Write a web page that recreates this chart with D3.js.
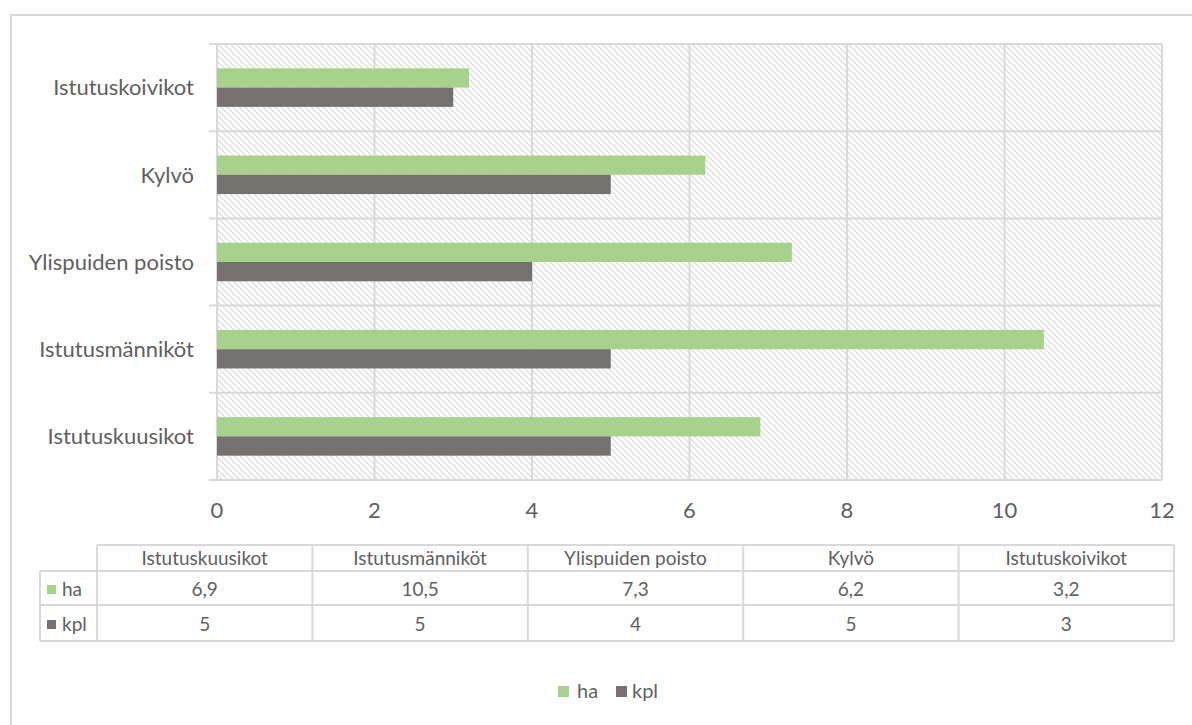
<!DOCTYPE html>
<html>
<head>
<meta charset="utf-8">
<script src="https://cdn.jsdelivr.net/npm/d3@7"></script>
<style>
  html, body { margin: 0; padding: 0; background: #fff; }
  svg { display: block; }
  text { font-family: Lato, "Open Sans", sans-serif; fill: #5f5f5f; }
</style>
</head>
<body>
<svg id="chart" width="1192" height="725"></svg>
<script>
// Categories in data-table order (bottom to top on the chart)
const categories = ["Istutuskuusikot", "Istutusmänniköt", "Ylispuiden poisto", "Kylvö", "Istutuskoivikot"];
const seriesNames = ["ha", "kpl"];
const haValues = [6.9, 10.5, 7.3, 6.2, 3.2];
const kplValues = [5, 5, 4, 5, 3];
const haLabels = ["6,9", "10,5", "7,3", "6,2", "3,2"];
const kplLabels = ["5", "5", "4", "5", "3"];
const xTicks = [0, 2, 4, 6, 8, 10, 12];

const colors = { ha: "#A9D18E", kpl: "#767171" };
const gridColor = "#D9D9D9";

const svg = d3.select("#chart");

// Outer chart frame
svg.append("rect")
  .attr("x", 11).attr("y", 15)
  .attr("width", 1200).attr("height", 730)
  .attr("fill", "none").attr("stroke", gridColor).attr("stroke-width", 2);

// Hatched plot background
const defs = svg.append("defs");
const pat = defs.append("pattern")
  .attr("id", "hatch").attr("patternUnits", "userSpaceOnUse")
  .attr("width", 6).attr("height", 6);
pat.append("rect").attr("width", 6).attr("height", 6).attr("fill", "#fff");
pat.append("path")
  .attr("d", "M-1,-1 L7,7 M-1,5 L1,7 M5,-1 L7,1")
  .attr("stroke", "#DADADA").attr("stroke-width", 1.2);

const plot = { left: 217, right: 1162, top: 44, bottom: 480 };

const x = d3.scaleLinear().domain([0, 12]).range([plot.left, plot.right]);
const y = d3.scaleBand()
  .domain(categories.slice().reverse())
  .range([plot.top, plot.bottom])
  .paddingInner(0.558).paddingOuter(0.279);
const ySub = d3.scaleBand().domain(seriesNames).range([0, y.bandwidth()]);

svg.append("rect")
  .attr("x", plot.left).attr("y", plot.top)
  .attr("width", plot.right - plot.left).attr("height", plot.bottom - plot.top)
  .attr("fill", "url(#hatch)");

// Vertical gridlines
svg.append("g").selectAll("line").data(xTicks).join("line")
  .attr("x1", d => x(d)).attr("x2", d => x(d))
  .attr("y1", plot.top).attr("y2", plot.bottom)
  .attr("stroke", gridColor).attr("stroke-width", 2);

// Horizontal band boundaries with outward ticks
const step = y.step();
const bounds = d3.range(categories.length + 1).map(i => plot.top + i * step);
svg.append("g").selectAll("line").data(bounds).join("line")
  .attr("x1", plot.left - 8).attr("x2", plot.right)
  .attr("y1", d => d).attr("y2", d => d)
  .attr("stroke", gridColor).attr("stroke-width", 2);

// Bars
const rows = categories.map((c, i) => ({ cat: c, ha: haValues[i], kpl: kplValues[i] }));
const groups = svg.append("g").selectAll("g").data(rows).join("g")
  .attr("transform", d => `translate(0,${y(d.cat)})`);
groups.selectAll("rect")
  .data(d => seriesNames.map(k => ({ key: k, value: d[k] })))
  .join("rect")
  .attr("x", x(0))
  .attr("y", d => ySub(d.key))
  .attr("width", d => x(d.value) - x(0))
  .attr("height", ySub.bandwidth())
  .attr("fill", d => colors[d.key]);

// Category labels
svg.append("g").selectAll("text").data(categories).join("text")
  .attr("x", 194)
  .attr("y", d => y(d) + y.bandwidth() / 2)
  .attr("dy", "0.35em")
  .attr("text-anchor", "end")
  .attr("font-size", 22)
  .text(d => d);

// Value axis labels
svg.append("g").selectAll("text").data(xTicks).join("text")
  .attr("x", d => x(d))
  .attr("y", 518)
  .attr("text-anchor", "middle")
  .attr("font-size", 22)
  .text(d => d);

// Data table beneath the chart
const table = { left: 40, keyRight: 97, right: 1174, rows: [545, 571, 605, 641] };
const col = d3.scaleBand().domain(categories).range([table.keyRight, table.right]);
const tg = svg.append("g");
const line = (x1, y1, x2, y2) => tg.append("line")
  .attr("x1", x1).attr("y1", y1).attr("x2", x2).attr("y2", y2)
  .attr("stroke", gridColor).attr("stroke-width", 2);

line(table.keyRight, table.rows[0], table.right, table.rows[0]);
line(table.left, table.rows[1], table.right, table.rows[1]);
line(table.left, table.rows[2], table.right, table.rows[2]);
line(table.left, table.rows[3], table.right, table.rows[3]);
line(table.left, table.rows[1], table.left, table.rows[3]);
categories.forEach(c => line(col(c), table.rows[0], col(c), table.rows[3]));
line(table.right, table.rows[0], table.right, table.rows[3]);

const tableFont = 19;
tg.selectAll("text.head").data(categories).join("text")
  .attr("class", "head")
  .attr("x", d => col(d) + col.bandwidth() / 2)
  .attr("y", 565)
  .attr("text-anchor", "middle").attr("font-size", tableFont)
  .text(d => d);

const valueRows = [
  { key: "ha", labels: haLabels, base: 596 },
  { key: "kpl", labels: kplLabels, base: 631 }
];
valueRows.forEach(r => {
  tg.append("rect")
    .attr("x", 47).attr("y", r.base - 11)
    .attr("width", 9).attr("height", 9)
    .attr("fill", colors[r.key]);
  tg.append("text")
    .attr("x", 62).attr("y", r.base)
    .attr("font-size", tableFont)
    .text(r.key);
  tg.selectAll(null).data(categories).join("text")
    .attr("x", d => col(d) + col.bandwidth() / 2)
    .attr("y", r.base)
    .attr("text-anchor", "middle").attr("font-size", tableFont)
    .text((d, i) => r.labels[i]);
});

// Legend
const legend = svg.append("g");
const legendItems = [
  { key: "ha", sx: 558, tx: 577 },
  { key: "kpl", sx: 616, tx: 632 }
];
legendItems.forEach(it => {
  legend.append("rect")
    .attr("x", it.sx).attr("y", 686)
    .attr("width", 11).attr("height", 11)
    .attr("fill", colors[it.key]);
  legend.append("text")
    .attr("x", it.tx).attr("y", 698)
    .attr("font-size", 20)
    .text(it.key);
});
</script>
</body>
</html>
